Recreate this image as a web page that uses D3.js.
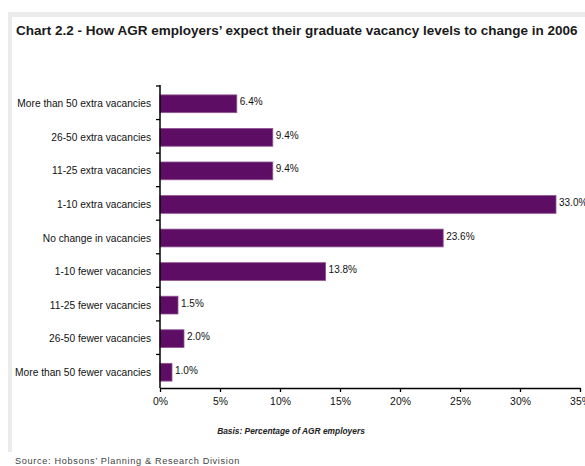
<!DOCTYPE html>
<html>
<head>
<meta charset="utf-8">
<script src="https://cdn.jsdelivr.net/npm/d3@7"></script>
<style>
  html, body { margin: 0; padding: 0; background: #fff; }
  svg { display: block; }
</style>
</head>
<body>
<script>
// Survey categories, top to bottom
const categories = [
  "More than 50 extra vacancies",
  "26-50 extra vacancies",
  "11-25 extra vacancies",
  "1-10 extra vacancies",
  "No change in vacancies",
  "1-10 fewer vacancies",
  "11-25 fewer vacancies",
  "26-50 fewer vacancies",
  "More than 50 fewer vacancies"
];
// Percentage of AGR employers per category
const values = [6.4, 9.4, 9.4, 33.0, 23.6, 13.8, 1.5, 2.0, 1.0];
// Axis ticks (percent)
const xTicks = [0, 5, 10, 15, 20, 25, 30, 35];

const W = 585, H = 466;
const svg = d3.select("body").append("svg").attr("width", W).attr("height", H);

// light grey frame around the chart panel
svg.append("rect").attr("x", 8).attr("y", 12).attr("width", W - 8).attr("height", 5).attr("fill", "#ebebeb");
svg.append("rect").attr("x", 8).attr("y", 12).attr("width", 4).attr("height", 440).attr("fill", "#ebebeb");

const font = "Liberation Sans, Arial, sans-serif";

svg.append("text")
  .attr("x", 16).attr("y", 35)
  .attr("font-family", font)
  .attr("font-weight", "bold").attr("font-size", 13.5)
  .attr("fill", "#1a1a1a")
  .text("Chart 2.2 - How AGR employers\u2019 expect their graduate vacancy levels to change in 2006");

const x = d3.scaleLinear().domain([0, 35]).range([160, 580]);
const y = d3.scaleBand().domain(categories).range([87, 389]).paddingInner(0.47).paddingOuter(0.235);

// bars
svg.append("g").selectAll("rect").data(categories).join("rect")
  .attr("x", x(0))
  .attr("y", d => y(d))
  .attr("width", (d, i) => x(values[i]) - x(0))
  .attr("height", y.bandwidth())
  .attr("fill", "#5e0d64")
  .attr("stroke", "#8f5594").attr("stroke-width", 0.8);

// value labels
svg.append("g").selectAll("text").data(categories).join("text")
  .attr("x", (d, i) => x(values[i]) + 3)
  .attr("y", d => y(d) + y.bandwidth() / 2 + 1.5)
  .attr("font-family", font).attr("font-size", 10)
  .attr("fill", "#111")
  .text((d, i) => values[i].toFixed(1) + "%");

// category axis: labels plus ticks at band boundaries
const yAxisG = svg.append("g");
yAxisG.append("line").attr("x1", 160).attr("x2", 160).attr("y1", 85).attr("y2", 388)
  .attr("stroke", "#000").attr("stroke-width", 1.5);
const step = y.step();
const bounds = d3.range(categories.length).map(i => 86 + i * step);
yAxisG.selectAll("line.tk").data(bounds).join("line").attr("class", "tk")
  .attr("x1", 156).attr("x2", 160).attr("y1", d => d).attr("y2", d => d)
  .attr("stroke", "#000").attr("stroke-width", 1.3);
yAxisG.selectAll("text").data(categories).join("text")
  .attr("x", 151).attr("y", d => y(d) + y.bandwidth() / 2 + 3.5)
  .attr("text-anchor", "end")
  .attr("font-family", font).attr("font-size", 10.2).attr("fill", "#111")
  .text(d => d);

// value axis
const xAxis = d3.axisBottom(x).tickValues(xTicks).tickFormat(d => d + "%").tickSize(4).tickPadding(6).tickSizeOuter(0);
const xg = svg.append("g").attr("transform", "translate(0,388)").call(xAxis);
xg.select(".domain").attr("stroke", "#000").attr("stroke-width", 1.5);
xg.selectAll(".tick line").attr("stroke", "#000").attr("stroke-width", 1.3);
xg.selectAll(".tick text").attr("font-family", font).attr("font-size", 10.4).attr("fill", "#111");

svg.append("text")
  .attr("x", 291).attr("y", 434).attr("text-anchor", "middle")
  .attr("font-family", font).attr("font-size", 8.4)
  .attr("font-weight", "bold").attr("font-style", "italic").attr("fill", "#222")
  .text("Basis: Percentage of AGR employers");

svg.append("text")
  .attr("x", 15).attr("y", 464)
  .attr("font-family", font).attr("font-size", 9.2).attr("letter-spacing", 0.65)
  .attr("fill", "#444")
  .text("Source: Hobsons\u2019 Planning & Research Division");
</script>
</body>
</html>
